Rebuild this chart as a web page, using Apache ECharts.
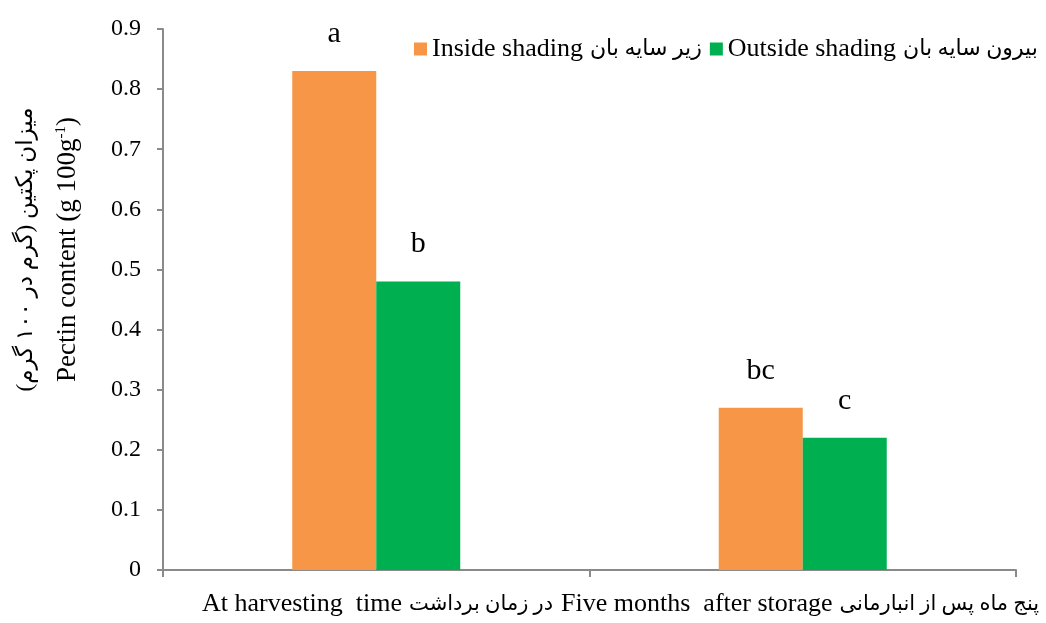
<!DOCTYPE html>
<html>
<head>
<meta charset="utf-8">
<script src="https://cdn.jsdelivr.net/npm/echarts@6/dist/echarts.min.js"></script>
<style>
  html, body { margin: 0; padding: 0; background: #fff; }
  #chart { width: 1046px; height: 623px; }
</style>
</head>
<body>
<div id="chart"></div>
<script>
// chart data
var categoriesEn = ['At harvesting  time', 'Five months  after storage'];
var categoriesFa = ['در زمان برداشت', 'پنج ماه پس از انبارمانی'];
var seriesEn = ['Inside shading', 'Outside shading'];
var seriesFa = ['زیر سایه بان', 'بیرون سایه بان'];
var insideValues = [0.83, 0.27];
var outsideValues = [0.48, 0.22];
var insideLetters = ['a', 'bc'];
var outsideLetters = ['b', 'c'];
var yTicks = [0, 0.1, 0.2, 0.3, 0.4, 0.5, 0.6, 0.7, 0.8, 0.9];

var categories = categoriesEn.map(function (c, i) { return c + ' ' + categoriesFa[i]; });
var seriesNames = seriesEn.map(function (s, i) { return s + ' ' + seriesFa[i]; });

var serif = '"Liberation Serif", "Times New Roman", "DejaVu Sans", serif';
var axisGray = '#8a8a8a';

var myChart = echarts.init(document.getElementById('chart'));

function letterLabel(letters) {
  return {
    show: true,
    position: 'top',
    distance: 22,
    color: '#000',
    fontFamily: serif,
    fontSize: 30,
    formatter: function (p) { return letters[p.dataIndex]; }
  };
}

// bottom line: english and persian parts side by side, like the original
var xText = categoriesEn.map(function (e, i) {
  return '{en|' + e + '}{fa|' + categoriesFa[i] + '}';
}).join('');

var option = {
  animation: false,
  grid: { left: 163, right: 30, top: 29, bottom: 53 },
  legend: {
    left: 409,
    top: 31,
    icon: 'rect',
    itemWidth: 13,
    itemHeight: 13,
    itemGap: 8,
    data: seriesNames,
    formatter: function (name) {
      var i = seriesNames.indexOf(name);
      return '{en|' + seriesEn[i] + '}{fa|' + seriesFa[i] + '}';
    },
    textStyle: {
      color: '#000',
      rich: {
        en: { fontFamily: serif, fontSize: 26, color: '#000' },
        fa: { fontFamily: serif, fontSize: 22, color: '#000', padding: [0, 0, 0, 7] }
      }
    }
  },
  xAxis: {
    type: 'category',
    data: categories,
    axisLine: { lineStyle: { color: axisGray, width: 2 } },
    axisTick: { show: true, length: 7, lineStyle: { color: axisGray, width: 2 } },
    axisLabel: { show: false }
  },
  yAxis: {
    type: 'value',
    min: yTicks[0],
    max: yTicks[yTicks.length - 1],
    interval: 0.1,
    splitLine: { show: false },
    axisLine: { show: true, lineStyle: { color: axisGray, width: 2 } },
    axisTick: { show: true, length: 6, lineStyle: { color: axisGray, width: 2 } },
    axisLabel: {
      color: '#000',
      fontFamily: serif,
      fontSize: 24,
      margin: 22,
      formatter: function (v) { return String(Math.round(v * 10) / 10); }
    },
    name: '{fa|میزان پکتین (گرم در ۱۰۰ گرم)\u200F}\n{en|Pectin content (g 100g}{sup|-1}{en|)}',
    nameLocation: 'middle',
    nameRotate: 90,
    nameGap: 74,
    nameTextStyle: {
      padding: [0, 0, 0, 100],
      rich: {
        fa: { fontFamily: serif, fontSize: 23, color: '#000', lineHeight: 42 },
        en: { fontFamily: serif, fontSize: 27, color: '#000', lineHeight: 42 },
        sup: { fontFamily: serif, fontSize: 15, color: '#000', lineHeight: 42, padding: [0, 0, 14, 0] }
      }
    }
  },
  series: [
    {
      name: seriesNames[0],
      type: 'bar',
      data: insideValues,
      barWidth: 84,
      barGap: '0%',
      itemStyle: { color: '#F79646' },
      label: letterLabel(insideLetters)
    },
    {
      name: seriesNames[1],
      type: 'bar',
      data: outsideValues,
      barWidth: 84,
      barGap: '0%',
      itemStyle: { color: '#00B050' },
      label: letterLabel(outsideLetters)
    }
  ],
  graphic: [
    {
      type: 'text',
      left: 202,
      top: 591,
      style: {
        text: xText,
        fill: '#000',
        rich: {
          en: { fontFamily: serif, fontSize: 26, fill: '#000', padding: [0, 0, 0, 0] },
          fa: { fontFamily: serif, fontSize: 21, fill: '#000', padding: [0, 8, 0, 7] }
        }
      }
    }
  ]
};
option && myChart.setOption(option);
</script>
</body>
</html>
